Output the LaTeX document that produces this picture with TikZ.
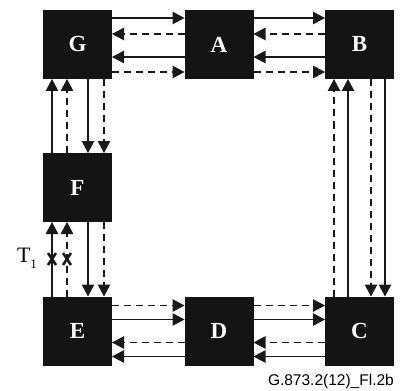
\documentclass[tikz,border=0pt]{standalone}
\usepackage{fontspec}
\setmainfont{Liberation Serif}
\newfontfamily\capfont{Liberation Sans}
\usetikzlibrary{arrows.meta}
\definecolor{boxfill}{HTML}{141414}
\begin{document}
\begin{tikzpicture}[x=1pt,y=-1pt,
  blk/.style={fill=boxfill,draw=none,minimum size=69pt,inner sep=0pt,outer sep=0pt,
    text=white,font=\fontsize{23}{23}\selectfont\bfseries},
  conn/.style={line width=1.1pt,-{Triangle[length=12pt,width=12.5pt]},draw=black!90},
  dsh/.style={conn,dash pattern=on 7pt off 5pt},
  xmark/.style={line width=2.6pt,black!90}]
\useasboundingbox (0,0) rectangle (411,390);
\node[blk] (G) at (77.5,44.5) {G};
\node[blk] (A) at (219,44.5) {A};
\node[blk] (B) at (359.5,44.5) {B};
\node[blk] (F) at (77.5,187.5) {F};
\node[blk] (E) at (77.5,331) {E};
\node[blk] (D) at (219,331) {D};
\node[blk] (C) at (359.5,331) {C};
% top row
\foreach \l/\r in {G/A,A/B}{
  \draw[conn] ([yshift=-8pt]\l.north east) -- ([yshift=-8pt]\r.north west);
  \draw[dsh] ([yshift=-24pt]\r.north west) -- ([yshift=-24pt]\l.north east);
  \draw[conn] ([yshift=-47pt]\r.north west) -- ([yshift=-47pt]\l.north east);
  \draw[dsh] ([yshift=-62pt]\l.north east) -- ([yshift=-62pt]\r.north west);
}
% bottom row
\foreach \l/\r in {E/D,D/C}{
  \draw[dsh] ([yshift=-9pt]\l.north east) -- ([yshift=-9pt]\r.north west);
  \draw[conn] ([yshift=-23pt]\l.north east) -- ([yshift=-23pt]\r.north west);
  \draw[dsh] ([yshift=-46pt]\r.north west) -- ([yshift=-46pt]\l.north east);
  \draw[conn] ([yshift=-60pt]\r.north west) -- ([yshift=-60pt]\l.north east);
}
% left column
\foreach \t/\b in {G/F,F/E}{
  \draw[conn] ([xshift=9pt]\b.north west) -- ([xshift=9pt]\t.south west);
  \draw[dsh] ([xshift=24pt]\b.north west) -- ([xshift=24pt]\t.south west);
  \draw[conn] ([xshift=45pt]\t.south west) -- ([xshift=45pt]\b.north west);
  \draw[dsh] ([xshift=61pt]\t.south west) -- ([xshift=61pt]\b.north west);
}
% right column
\draw[dsh] ([xshift=9pt]C.north west) -- ([xshift=9pt]B.south west);
\draw[conn] ([xshift=23pt]C.north west) -- ([xshift=23pt]B.south west);
\draw[dsh] ([xshift=46pt]B.south west) -- ([xshift=46pt]C.north west);
\draw[conn] ([xshift=60pt]B.south west) -- ([xshift=60pt]C.north west);
% X marks
\foreach \x in {52,67}{
  \draw[xmark] (\x-4,253) -- (\x+4,265);
  \draw[xmark] (\x+4,253) -- (\x-4,265);
}
\node (T) at (27,258) {\fontsize{22}{22}\selectfont T\raisebox{-6pt}{\fontsize{13}{13}\selectfont 1}};
\node[anchor=east,inner sep=0pt] (cap) at (394,381) {\capfont\fontsize{15.5}{15.5}\selectfont G.873.2(12)\_Fl.2b};
\end{tikzpicture}
\end{document}
